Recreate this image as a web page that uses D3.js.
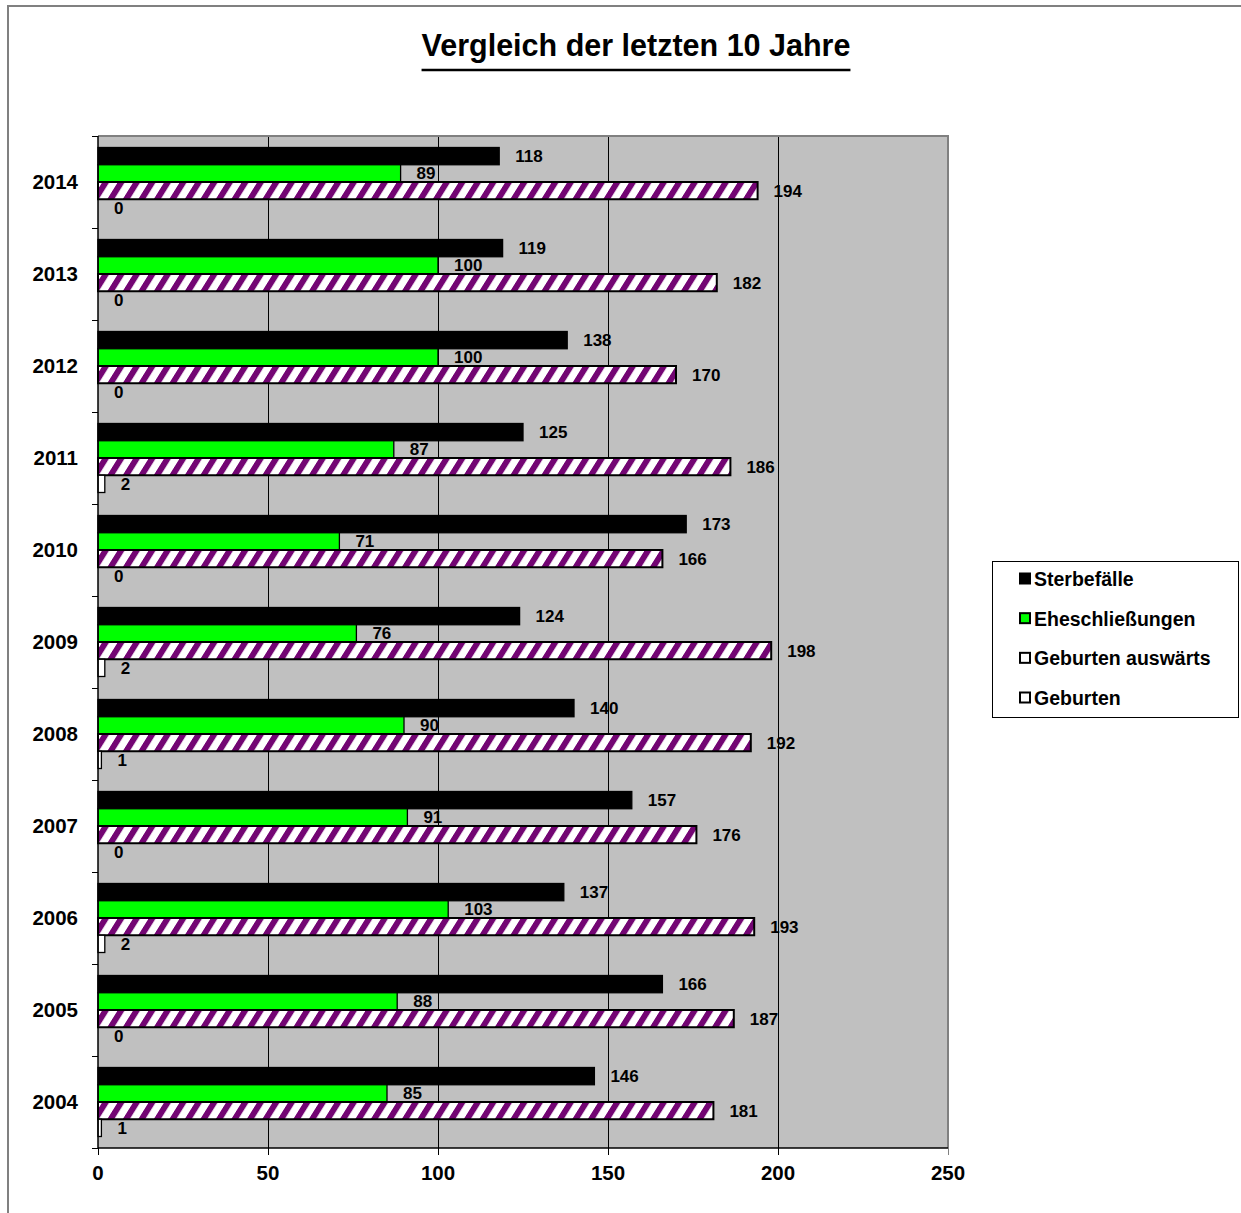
<!DOCTYPE html>
<html>
<head>
<meta charset="utf-8">
<script src="https://cdn.jsdelivr.net/npm/d3@7"></script>
<style>
  html, body { margin: 0; padding: 0; background: #fff; }
  svg { display: block; }
  text { font-family: "Liberation Sans", Arial, sans-serif; font-weight: bold; fill: #000; }
</style>
</head>
<body>
<svg id="chart" width="1241" height="1213"></svg>
<script>
// Jahre und Werte je Reihe (gleiche Reihenfolge wie years)
const years = ["2004", "2005", "2006", "2007", "2008", "2009", "2010", "2011", "2012", "2013", "2014"];
const seriesNames = ["Sterbefälle", "Eheschließungen", "Geburten auswärts", "Geburten"];
const sterbefaelle = [146, 166, 137, 157, 140, 124, 173, 125, 138, 119, 118];
const eheschliessungen = [85, 88, 103, 91, 90, 76, 71, 87, 100, 100, 89];
const geburtenAuswaerts = [181, 187, 193, 176, 192, 198, 166, 186, 170, 182, 194];
const geburten = [1, 0, 2, 0, 1, 2, 0, 2, 0, 0, 0];
const xTicks = [0, 50, 100, 150, 200, 250];
const title = "Vergleich der letzten 10 Jahre";

const seriesValues = [sterbefaelle, eheschliessungen, geburtenAuswaerts, geburten];
const rows = years.map((yr, i) => ({
  year: yr,
  values: seriesNames.map((name, s) => ({ name, value: seriesValues[s][i] }))
}));

const svg = d3.select("#chart");
const plot = { left: 98, right: 948, top: 136, bottom: 1148 };
const crisp = v => Math.round(v) + 0.5;

// Füllungen der Reihen
const defs = svg.append("defs");
const hatch = defs.append("pattern")
  .attr("id", "hatch")
  .attr("patternUnits", "userSpaceOnUse")
  .attr("width", 15.5)
  .attr("height", 40)
  .attr("patternTransform", "skewX(-32)");
hatch.append("rect").attr("width", 15.5).attr("height", 40).attr("fill", "#fff");
hatch.append("rect").attr("x", 0).attr("width", 7).attr("height", 40).attr("fill", "#730573");

const fills = {
  "Sterbefälle": "#000000",
  "Eheschließungen": "#00ff00",
  "Geburten auswärts": "url(#hatch)",
  "Geburten": "#ffffff"
};

// äußerer Diagrammrahmen
svg.append("rect")
  .attr("x", 8).attr("y", 6).attr("width", 1300).attr("height", 1300)
  .attr("fill", "none").attr("stroke", "#808080").attr("stroke-width", 2);

// Titel mit Unterstreichung
const titleText = svg.append("text")
  .attr("x", 636).attr("y", 56)
  .attr("text-anchor", "middle")
  .style("font-size", "30.5px")
  .text(title);
const tw = titleText.node().getComputedTextLength();
svg.append("line")
  .attr("x1", 636 - tw / 2).attr("x2", 636 + tw / 2)
  .attr("y1", 70).attr("y2", 70)
  .attr("stroke", "#000").attr("stroke-width", 2.5);

// Skalen
const x = d3.scaleLinear().domain([0, 250]).range([plot.left, plot.right]);
const y = d3.scaleBand()
  .domain(years.slice().reverse())
  .range([plot.top, plot.bottom])
  .paddingInner(0.25)
  .paddingOuter(0.125);
const ySub = d3.scaleBand().domain(seriesNames).range([0, y.bandwidth()]);

// Zeichenfläche
svg.append("rect")
  .attr("x", plot.left).attr("y", plot.top)
  .attr("width", plot.right - plot.left).attr("height", plot.bottom - plot.top)
  .attr("fill", "#c0c0c0");

// Gitterlinien
svg.append("g")
  .selectAll("line")
  .data(xTicks.filter(t => t > 0 && t < 250))
  .join("line")
  .attr("x1", d => crisp(x(d))).attr("x2", d => crisp(x(d)))
  .attr("y1", plot.top).attr("y2", plot.bottom)
  .attr("stroke", "#000").attr("stroke-width", 1);

// Rahmen oben und rechts
svg.append("path")
  .attr("d", `M${plot.left},${plot.top}H${plot.right}V${plot.bottom}`)
  .attr("fill", "none").attr("stroke", "#808080").attr("stroke-width", 2);

// Balken
const groups = svg.append("g")
  .selectAll("g")
  .data(rows)
  .join("g")
  .attr("transform", d => `translate(0,${y(d.year)})`);

groups.selectAll("rect")
  .data(d => d.values)
  .join("rect")
  .attr("x", x(0))
  .attr("y", d => ySub(d.name))
  .attr("width", d => x(d.value) - x(0))
  .attr("height", ySub.bandwidth())
  .attr("fill", d => fills[d.name])
  .attr("stroke", d => d.value > 0 ? "#000" : "none")
  .attr("stroke-width", d => d.name === "Geburten auswärts" ? 2 : 1.3);

// Werte an den Balken
groups.selectAll("text")
  .data(d => d.values)
  .join("text")
  .attr("x", d => x(d.value) + 16)
  .attr("y", d => ySub(d.name) + ySub.bandwidth() / 2)
  .attr("dy", "0.36em")
  .style("font-size", "17px")
  .text(d => d.value);

// y-Achse
const yAxis = svg.append("g");
yAxis.append("line")
  .attr("x1", plot.left).attr("x2", plot.left)
  .attr("y1", plot.top).attr("y2", plot.bottom)
  .attr("stroke", "#000").attr("stroke-width", 1.5);
yAxis.selectAll("line.tick")
  .data(d3.range(years.length + 1))
  .join("line")
  .attr("class", "tick")
  .attr("x1", plot.left - 6).attr("x2", plot.left)
  .attr("y1", i => crisp(plot.top + i * y.step()))
  .attr("y2", i => crisp(plot.top + i * y.step()))
  .attr("stroke", "#000").attr("stroke-width", 1);
yAxis.selectAll("text")
  .data(years)
  .join("text")
  .attr("x", 78)
  .attr("y", d => y(d) + y.bandwidth() / 2)
  .attr("dy", "0.36em")
  .attr("text-anchor", "end")
  .style("font-size", "20.5px")
  .text(d => d);

// x-Achse
const xAxis = svg.append("g");
xAxis.append("line")
  .attr("x1", plot.left).attr("x2", plot.right)
  .attr("y1", plot.bottom).attr("y2", plot.bottom)
  .attr("stroke", "#000").attr("stroke-width", 1.5);
xAxis.selectAll("line.tick")
  .data(xTicks)
  .join("line")
  .attr("class", "tick")
  .attr("x1", d => crisp(x(d))).attr("x2", d => crisp(x(d)))
  .attr("y1", plot.bottom).attr("y2", plot.bottom + 7)
  .attr("stroke", d => d === 250 ? "#808080" : "#000").attr("stroke-width", 1);
xAxis.selectAll("text")
  .data(xTicks)
  .join("text")
  .attr("x", d => x(d))
  .attr("y", 1180)
  .attr("text-anchor", "middle")
  .style("font-size", "20.5px")
  .text(d => d);

// Legende
const legend = svg.append("g");
legend.append("rect")
  .attr("x", 992.5).attr("y", 561.5).attr("width", 246).attr("height", 156)
  .attr("fill", "#fff").attr("stroke", "#000").attr("stroke-width", 1);
const legendY = d3.scalePoint().domain(seriesNames).range([579, 698]);
const items = legend.selectAll("g")
  .data(seriesNames)
  .join("g")
  .attr("transform", d => `translate(0,${legendY(d)})`);
items.append("rect")
  .attr("x", 1020).attr("y", -5.5).attr("width", 10).attr("height", 10)
  .attr("fill", d => d === "Geburten auswärts" ? "#fff" : fills[d])
  .attr("stroke", "#000").attr("stroke-width", 2);
items.append("text")
  .attr("x", 1034)
  .attr("dy", "0.36em")
  .style("font-size", "19.5px")
  .text(d => d);
</script>
</body>
</html>
